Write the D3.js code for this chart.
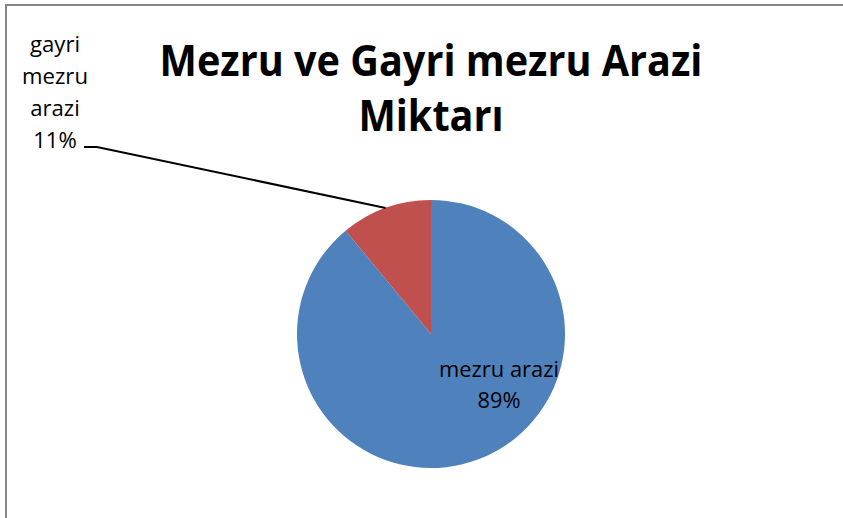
<!DOCTYPE html>
<html>
<head>
<meta charset="utf-8">
<script src="https://cdn.jsdelivr.net/npm/d3@7"></script>
<style>
  html, body { margin: 0; padding: 0; background: #fff; }
  svg { display: block; }
</style>
</head>
<body>
<svg id="chart" width="843" height="518"></svg>
<script>
const categories = ["mezru arazi", "gayri mezru arazi"];
const values = [89, 11];
const percentLabels = ["89%", "11%"];
const colors = ["#4F81BD", "#C0504D"];
const titleLines = ["Mezru ve Gayri mezru Arazi", "Miktarı"];

const W = 843, H = 518;
const svg = d3.select("#chart");

svg.append("rect").attr("x", 0).attr("y", 0).attr("width", W).attr("height", H).attr("fill", "#fff");
svg.append("rect").attr("x", 6).attr("y", 5).attr("width", 840).attr("height", 520)
  .attr("fill", "none").attr("stroke", "#878787").attr("stroke-width", 2);

const font = "'Open Sans', 'DejaVu Sans', sans-serif";

// helper: multi-line text, horizontally condensed to match a reference width
function condensedText(x, lines, baselines, size, weight, refWord, refWidth) {
  const probe = svg.append("text").attr("font-family", font).attr("font-weight", weight)
    .attr("font-size", size).text(refWord);
  const sx = refWidth / probe.node().getComputedTextLength();
  probe.remove();
  const gg = svg.append("g").attr("transform", `translate(${x},0) scale(${sx},1)`);
  const t = gg.append("text").attr("text-anchor", "middle")
    .attr("font-family", font).attr("font-weight", weight).attr("font-size", size).attr("fill", "#000");
  t.selectAll("tspan").data(lines).join("tspan")
    .attr("x", 0).attr("y", (d, i) => baselines[i]).text(d => d);
  return t;
}

// Title
condensedText(431, titleLines, [76, 131], 43, "bold", titleLines[0], 543);

// Pie
const cx = 431, cy = 334, R = 134;
const pie = d3.pie().sort(null).value(d => d.v);
const arcs = pie(categories.map((c, i) => ({ c, v: values[i], p: percentLabels[i], col: colors[i] })));
const arc = d3.arc().innerRadius(0).outerRadius(R);
const g = svg.append("g").attr("transform", `translate(${cx},${cy})`);
g.selectAll("path").data(arcs).join("path")
  .attr("d", arc).attr("fill", d => d.data.col);

// Inside label for big slice
const big = arcs[0];
condensedText(499, [big.data.c, big.data.p], [377, 408], 21, "normal", "mezru arazi", 120);

// Outside label for small slice
const small = arcs[1];
condensedText(55, ["gayri", "mezru", "arazi", small.data.p], [52, 84, 116, 148], 21, "normal", "mezru", 66);

// Leader line to the slice's outer midpoint
const mid = (small.startAngle + small.endAngle) / 2;
const ex = cx + R * Math.sin(mid), ey = cy - R * Math.cos(mid);
svg.append("polyline")
  .attr("points", `84,147 97,147 ${ex},${ey}`)
  .attr("fill", "none").attr("stroke", "#000").attr("stroke-width", 2);
</script>
</body>
</html>
